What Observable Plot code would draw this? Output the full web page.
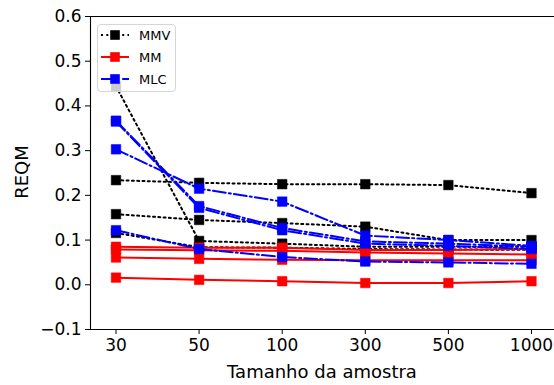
<!DOCTYPE html>
<html><head><meta charset="utf-8">
<script src="https://cdn.jsdelivr.net/npm/d3@7"></script>
<script src="https://cdn.jsdelivr.net/npm/@observablehq/plot@0.6"></script>
<style>
body{margin:0;background:#fff;font-family:"DejaVu Sans",sans-serif;}
#wrap{position:relative;width:554px;height:385px;overflow:hidden;}
#wrap svg.plot{position:absolute;left:0;top:0;}
.lbl{position:absolute;font-size:18px;color:#000;white-space:nowrap;line-height:1;}
.legend{position:absolute;left:97px;top:24px;width:79px;height:68px;box-sizing:border-box;border:1px solid #d6d6d6;border-radius:4px;background:rgba(255,255,255,0.8);}
</style></head><body>
<div id="wrap"></div>
<script>
// Categories (sample sizes)
const sizes = ["30", "50", "100", "300", "500", "1000"];
const yTicks = [-0.1, 0.0, 0.1, 0.2, 0.3, 0.4, 0.5, 0.6];
const methods = ["MMV", "MM", "MLC"];

// REQM values, one array per curve
const mmv1 = [0.234, 0.228, 0.225, 0.225, 0.223, 0.205];
const mmv2 = [0.158, 0.145, 0.138, 0.130, 0.100, 0.100];
const mmv3 = [0.444, 0.098, 0.092, 0.085, 0.085, 0.085];
const mmv4 = [0.116, 0.084, 0.083, 0.080, 0.079, 0.078];

const mm1 = [0.085, 0.083, 0.083, 0.078, 0.078, 0.080];
const mm2 = [0.079, 0.077, 0.076, 0.072, 0.070, 0.068];
const mm3 = [0.061, 0.058, 0.056, 0.055, 0.055, 0.055];
const mm4 = [0.016, 0.011, 0.008, 0.004, 0.004, 0.008];

const mlc1 = [0.367, 0.176, 0.127, 0.097, 0.092, 0.085];
const mlc2 = [0.303, 0.215, 0.186, 0.110, 0.100, 0.087];
const mlc3 = [0.122, 0.080, 0.062, 0.052, 0.050, 0.047];
const mlc4 = [0.365, 0.172, 0.122, 0.092, 0.087, 0.080];

const styles = {
  MMV: {color: "#000000", dash: "2,3.3"},
  MM:  {color: "#ff0000", dash: null},
  MLC: {color: "#0000ff", dash: "12.8,3.2,2,3.2"}
};
const series = {MMV: [mmv1, mmv2, mmv3, mmv4], MM: [mm1, mm2, mm3, mm4], MLC: [mlc1, mlc2, mlc3, mlc4]};

const marks = [];
for (const m of methods) {
  const st = styles[m];
  series[m].forEach((vals) => {
    const data = vals.map((v, i) => ({i, v}));
    const lineOpts = {x: "i", y: "v", stroke: st.color, strokeWidth: 2};
    if (st.dash) lineOpts.strokeDasharray = st.dash;
    marks.push(Plot.line(data, lineOpts));
    marks.push(Plot.dot(data, {x: "i", y: "v", symbol: "square", r: 5.4, fill: st.color, stroke: st.color, strokeWidth: 0.5}));
  });
}

const xDomain = [-0.307, 5.277];
const yDomain = [-0.1, 0.6];

const chart = Plot.plot({
  width: 554, height: 385,
  marginLeft: 90, marginRight: 0, marginTop: 16, marginBottom: 56,
  style: {fontFamily: "DejaVu Sans, sans-serif", color: "#000", background: "transparent"},
  x: {domain: xDomain, label: null},
  y: {domain: yDomain, label: null},
  marks: [
    ...marks,
    Plot.ruleY(yDomain, {stroke: "#000", strokeWidth: 1.1}),
    Plot.ruleX([xDomain[0]], {stroke: "#000", strokeWidth: 1.1}),
    Plot.axisX({ticks: d3.range(sizes.length), tickFormat: (i) => sizes[i], fontSize: 17, tickSize: 5, tickPadding: 4, stroke: "#000"}),
    Plot.axisY({ticks: yTicks, tickFormat: (d) => d.toFixed(1).replace("-", "\u2212"), fontSize: 17, tickSize: 5, tickPadding: 4, stroke: "#000"})
  ]
});
chart.classList.add("plot");
const wrap = document.getElementById("wrap");
wrap.appendChild(chart);

// axis titles
const xl = document.createElement("div");
xl.className = "lbl"; xl.textContent = "Tamanho da amostra";
xl.style.left = "322px"; xl.style.top = "363px"; xl.style.transform = "translateX(-50%)";
wrap.appendChild(xl);
const yl = document.createElement("div");
yl.className = "lbl"; yl.textContent = "REQM";
yl.style.left = "22px"; yl.style.top = "172px"; yl.style.transform = "translate(-50%,-50%) rotate(-90deg)";
wrap.appendChild(yl);

// legend
const leg = document.createElement("div");
leg.className = "legend";
wrap.appendChild(leg);
const ls = d3.select(leg).append("svg").attr("width", 79).attr("height", 68).style("position", "absolute").style("left", "-1px").style("top", "-1px");
methods.forEach((m, k) => {
  const st = styles[m];
  const y = 11 + k * 22;
  const ln = ls.append("line").attr("x1", 4).attr("x2", 32).attr("y1", y).attr("y2", y)
    .attr("stroke", st.color).attr("stroke-width", 2);
  if (st.dash) ln.attr("stroke-dasharray", st.dash);
  ls.append("rect").attr("x", 18 - 4.8).attr("y", y - 4.8).attr("width", 9.6).attr("height", 9.6).attr("fill", st.color);
  ls.append("text").attr("x", 42).attr("y", y).attr("dy", "0.36em").attr("font-size", 13).attr("font-family", "DejaVu Sans, sans-serif").attr("fill", "#000").text(m);
});
</script>
</body></html>
